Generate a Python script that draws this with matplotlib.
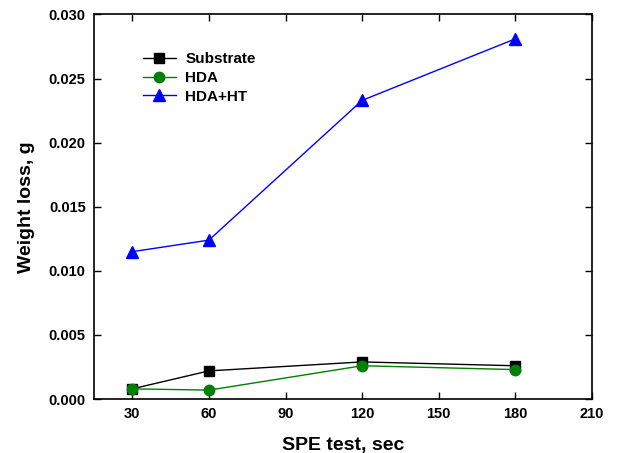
import matplotlib
matplotlib.use("Agg")
import matplotlib.pyplot as plt

# Data
time_sec = [30, 60, 120, 180]
substrate = [0.0008, 0.0022, 0.0029, 0.0026]
hda = [0.0008, 0.0007, 0.0026, 0.0023]
hda_ht = [0.0115, 0.0124, 0.0233, 0.0281]

x_ticks = [30, 60, 90, 120, 150, 180, 210]
y_ticks = [0.000, 0.005, 0.010, 0.015, 0.020, 0.025, 0.030]

plt.rcParams['font.family'] = ['Liberation Sans', 'DejaVu Sans']
plt.rcParams['font.weight'] = 'bold'

fig = plt.figure(figsize=(6.31, 4.53), dpi=100)
ax = fig.add_axes([0.149, 0.119, 0.789, 0.849])

ax.plot(time_sec, substrate, color='black', marker='s', markersize=6.5, lw=1, label='Substrate')
ax.plot(time_sec, hda, color='#008000', marker='o', markersize=7.5, lw=1, label='HDA')
ax.plot(time_sec, hda_ht, color='#0000ff', marker='^', markersize=9, lw=1, label='HDA+HT')

ax.set_xlim(15, 210)
ax.set_ylim(0, 0.030)
ax.set_xticks(x_ticks)
ax.set_yticks(y_ticks)
ax.set_yticklabels([f"{v:.3f}" for v in y_ticks])
ax.tick_params(direction='in', top=True, right=True, length=5, width=1, labelsize=10.5, pad=6)
for lbl in ax.get_xticklabels() + ax.get_yticklabels():
    lbl.set_fontweight('bold')
for s in ax.spines.values():
    s.set_linewidth(1.2)

ax.set_xlabel('SPE test, sec', fontsize=14, fontweight='bold', labelpad=11)
ax.set_ylabel('Weight loss, g', fontsize=14, fontweight='bold', labelpad=10)

ax.legend(loc='upper left', bbox_to_anchor=(0.07, 0.937), frameon=False,
          handlelength=2.2, handletextpad=0.6, labelspacing=0.3,
          prop={'weight': 'bold', 'size': 11})

fig.savefig('out.png', dpi=100)
